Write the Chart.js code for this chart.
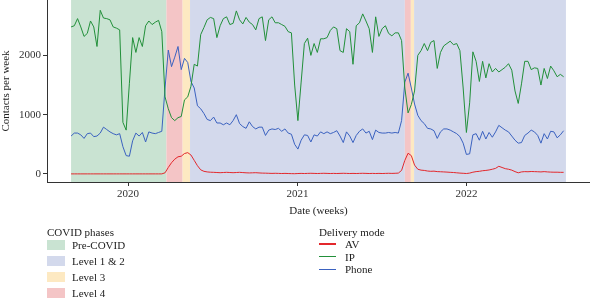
<!DOCTYPE html>
<html>
<head>
<meta charset="utf-8">
<script src="https://cdn.jsdelivr.net/npm/chart.js@4.4.1/dist/chart.umd.min.js"></script>
<style>
  body { margin: 0; background: #fff; }
  #wrap { position: relative; width: 590px; height: 298px; font-family: 'Liberation Serif', serif; font-size: 11px; color: #222; overflow: hidden; }
  #chart { position: absolute; left: 0; top: 0; }
  .lg { position: absolute; white-space: nowrap; line-height: 14px; height: 14px; }
  .sw { position: absolute; width: 18px; height: 10px; }
  .ln { position: absolute; width: 17px; height: 1.5px; }
</style>
</head>
<body>
<div id="wrap">
  <canvas id="chart" width="590" height="298"></canvas>
  <div id="legend"></div>
</div>
<script>
// weekly series, first week starting 2019-08-31
const startDate = '2019-08-31';

const ipValues = [
  2480, 2500, 2620, 2480, 2320, 2370, 2580, 2480, 2150, 2760,
  2630, 2620, 2600, 2480, 2460, 2430, 870, 740, 1530, 2300,
  2050, 2300, 2150, 2500, 2580, 2520, 2560, 2590, 2400, 1300,
  1100, 950, 900, 950, 970, 1250, 1300, 1480, 1850, 1820,
  2350, 2470, 2600, 2640, 2620, 2300, 2500, 2620, 2650, 2520,
  2540, 2750, 2600, 2530, 2640, 2560, 2520, 2430, 2620, 2650,
  2250, 2600, 2650, 2550, 2550, 2520, 2490, 2400, 2380, 1500,
  900, 1550, 2200, 2290, 2000, 2200, 2050, 2280, 2280, 2300,
  2420, 2480, 2450, 2080, 2050, 2450, 2400, 1850, 2500, 2550,
  2700, 2580, 2450, 2050, 2650, 2320, 2450, 2500, 2370, 2330,
  2380, 2380, 2250, 1450, 1030, 1170, 1400, 2000, 2080, 2200,
  2080, 2220, 2250, 1780, 2050, 2160, 2200, 2240, 2180, 2200,
  2080, 1450, 700, 1200, 2060, 1900, 1560, 1900, 1620, 1860,
  1720, 1780, 1720, 1760, 1800, 1860, 1750, 1400, 1190, 1520,
  1900, 1900, 1760, 1790, 1780, 1500, 1780, 1610, 1820, 1740,
  1640, 1680, 1640
];

const phoneValues = [
  640, 690, 690, 660, 600, 680, 690, 630, 640, 690,
  790, 750, 710, 680, 660, 680, 460, 310, 300, 560,
  690, 640, 700, 540, 710, 690, 680, 700, 720, 1450,
  2090, 1810, 1970, 2150, 1760, 1950, 1880, 1560, 1450, 1150,
  1100, 1020, 920, 900, 960, 860, 860, 830, 860, 830,
  900, 1000, 850, 800, 770, 880, 800, 760, 790, 790,
  650, 740, 760, 750, 770, 720, 760, 690, 670, 500,
  420, 570, 660, 650, 540, 660, 640, 710, 680, 710,
  680, 700, 730, 640, 530, 710, 640, 530, 650, 720,
  760, 690, 720, 580, 740, 700, 690, 690, 700, 690,
  700, 690, 900, 1550, 1700, 1450, 1180, 990, 900, 850,
  770, 760, 730, 600, 710, 760, 760, 740, 710, 680,
  630, 520, 330, 340, 660, 680, 570, 720, 590, 700,
  620, 710, 820, 780, 740, 710, 640, 570, 520, 530,
  650, 690, 740, 710, 650, 520, 680, 590, 720, 710,
  610, 660, 730
];

const avValues = [
  2, 2, 2, 2, 2, 2, 2, 2, 2, 2,
  2, 2, 2, 2, 2, 2, 2, 2, 2, 2,
  2, 2, 2, 2, 2, 2, 2, 2, 2, 20,
  110, 190, 250, 290, 300, 345, 360, 320, 230, 140,
  70, 45, 35, 30, 28, 25, 22, 25, 28, 25,
  22, 25, 28, 24, 20, 18, 20, 22, 18, 15,
  14, 12, 10, 12, 10, 8, 10, 8, 6, 5,
  8, 10, 8, 10, 12, 10, 8, 10, 12, 10,
  8, 10, 8, 10, 12, 10, 8, 10, 8, 10,
  12, 10, 8, 10, 8, 10, 8, 10, 12, 10,
  12, 15, 60, 230, 350, 310, 150, 80, 65, 60,
  50, 45, 48, 40, 38, 35, 32, 28, 25, 20,
  15, 12, 8, 15, 30, 40, 45, 55, 60, 68,
  80, 95, 130, 110, 90, 80, 65, 40, 20, 35,
  40, 38, 42, 40, 38, 35, 40, 35, 32, 30,
  30, 28, 28
];

const seriesNames = ['AV', 'IP', 'Phone'];
const seriesColors = ['#e3282c', '#22903a', '#3b62c0'];

const yTickValues = [0, 1000, 2000];
const xTickLabels = ['2020', '2021', '2022'];
const xTickDates = ['2020-01-01', '2021-01-01', '2022-01-01'];

const phaseNames = ['Pre-COVID', 'Level 1 & 2', 'Level 3', 'Level 4'];
const phaseColors = ['#c9e3d2', '#d3d9ec', '#fde9c2', '#f4c5c6'];

// [phase, from, to]
const phasePeriods = [
  ['Pre-COVID', '2019-08-31', '2020-03-24'],
  ['Level 4', '2020-03-24', '2020-04-28'],
  ['Level 3', '2020-04-28', '2020-05-14'],
  ['Level 1 & 2', '2020-05-14', '2021-08-21'],
  ['Level 4', '2021-08-21', '2021-09-03'],
  ['Level 3', '2021-09-03', '2021-09-10'],
  ['Level 1 & 2', '2021-09-10', '2022-08-04']
];

const FONT = "'Liberation Serif', serif";
const dayOf = s => (Date.parse(s) - Date.parse(startDate)) / 86400000;
const toPoints = vals => vals.map((v, i) => ({ x: i * 7, y: v }));

const phaseBands = {
  id: 'phaseBands',
  beforeDraw(chart) {
    const { ctx, chartArea, scales } = chart;
    ctx.save();
    phasePeriods.forEach(([name, from, to]) => {
      const x0 = scales.x.getPixelForValue(dayOf(from));
      const x1 = scales.x.getPixelForValue(dayOf(to));
      ctx.fillStyle = phaseColors[phaseNames.indexOf(name)];
      ctx.fillRect(x0, chartArea.top, x1 - x0, chartArea.bottom - chartArea.top);
    });
    ctx.restore();
  }
};

const seriesValues = [avValues, ipValues, phoneValues];

new Chart(document.getElementById('chart'), {
  type: 'line',
  data: {
    datasets: seriesNames.map((name, k) => ({
      label: name,
      data: toPoints(seriesValues[k]),
      borderColor: seriesColors[k],
      borderWidth: 1,
      pointRadius: 0,
      tension: 0,
      fill: false
    }))
  },
  options: {
    responsive: false,
    animation: false,
    layout: { padding: { top: 0, right: 0, bottom: 76, left: 0 } },
    plugins: { legend: { display: false }, tooltip: { enabled: false } },
    scales: {
      x: {
        type: 'linear',
        min: -52,
        max: 1121,
        afterBuildTicks: scale => { scale.ticks = xTickDates.map(d => ({ value: dayOf(d) })); },
        afterFit: scale => { scale.height = 40; scale.paddingLeft = 0; scale.paddingRight = 0; },
        ticks: {
          color: '#333',
          font: { family: FONT, size: 11 },
          padding: 2,
          maxRotation: 0,
          callback: (v, i) => xTickLabels[i]
        },
        grid: { display: true, drawOnChartArea: false, drawTicks: true, tickLength: 4, color: '#333' },
        border: { display: true, color: '#333', width: 1 },
        title: { display: true, text: 'Date (weeks)', color: '#222', font: { family: FONT, size: 11 }, padding: { top: 2, bottom: 4 } }
      },
      y: {
        type: 'linear',
        min: -135,
        max: 2934,
        afterBuildTicks: scale => { scale.ticks = yTickValues.map(v => ({ value: v })); },
        afterFit: scale => { scale.width = 47; scale.paddingTop = 0; scale.paddingBottom = 0; },
        ticks: { color: '#333', font: { family: FONT, size: 11 }, padding: 2, callback: v => String(v) },
        grid: { display: true, drawOnChartArea: false, drawTicks: true, tickLength: 4, color: '#333' },
        border: { display: true, color: '#333', width: 1 },
        title: { display: true, text: 'Contacts per week', color: '#222', font: { family: FONT, size: 11 }, padding: 0 }
      }
    }
  },
  plugins: [phaseBands]
});

// legend below the plot
const legend = document.getElementById('legend');
let html = '<div class="lg" style="left:47px;top:225px">COVID phases</div>';
const phaseRows = [245, 261, 277, 293];
phaseNames.forEach((name, i) => {
  const cy = phaseRows[i];
  html += `<div class="sw" style="left:47px;top:${cy - 5}px;background:${phaseColors[i]}"></div>`;
  html += `<div class="lg" style="left:72px;top:${cy - 7}px">${name}</div>`;
});
html += '<div class="lg" style="left:319px;top:225px">Delivery mode</div>';
const modeRows = [244, 256.7, 269.3];
seriesNames.forEach((name, i) => {
  const cy = modeRows[i];
  html += `<div class="ln" style="left:319px;top:${cy - 0.75}px;background:${seriesColors[i]}"></div>`;
  html += `<div class="lg" style="left:345px;top:${cy - 7}px">${name}</div>`;
});
legend.innerHTML = html;
</script>
</body>
</html>
